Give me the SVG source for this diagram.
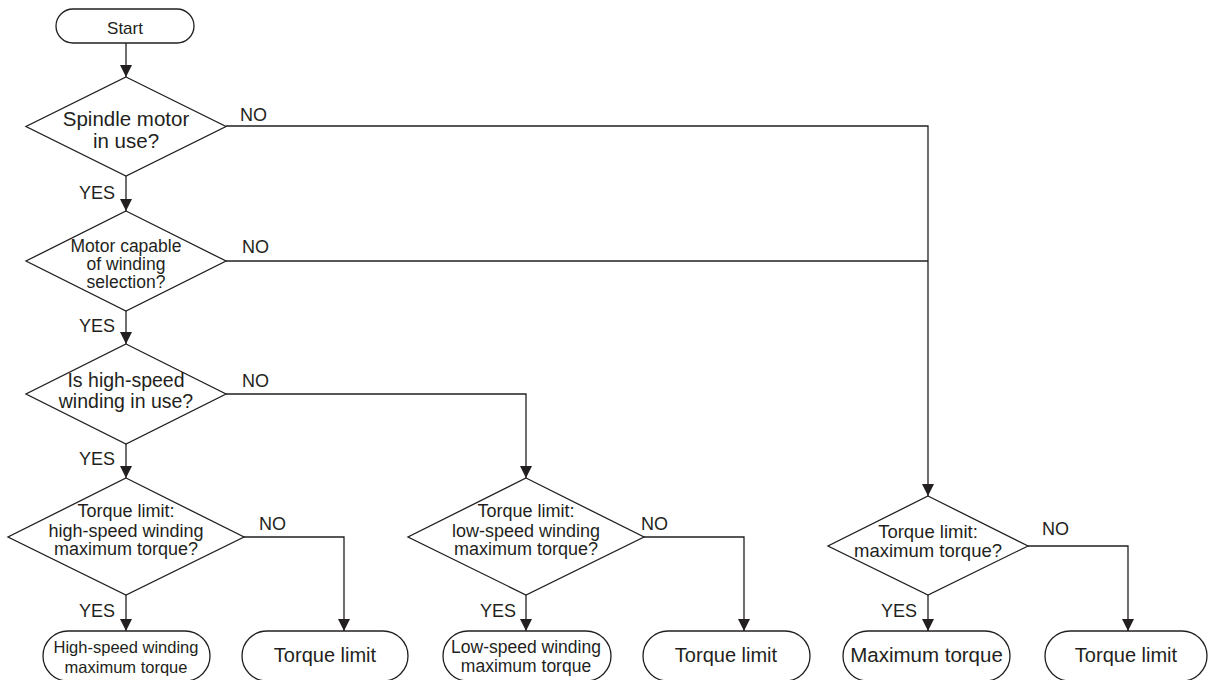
<svg xmlns="http://www.w3.org/2000/svg" width="1210" height="680" viewBox="0 0 1210 680">
  <style>
    .shape { fill: #ffffff; stroke: #231f20; stroke-width: 1.3; }
    .wire { fill: none; stroke: #231f20; stroke-width: 1.3; }
    text { font-family: "Liberation Sans", Arial, sans-serif; fill: #231f20; text-anchor: middle; }
    .lbl { font-size: 18px; text-anchor: start; }
  </style>
  <defs>
    <marker id="arrow" markerUnits="userSpaceOnUse" markerWidth="12" markerHeight="14" refX="12" refY="6" orient="auto">
      <path d="M0,0 L12,6 L0,12 Z" fill="#231f20"/>
    </marker>
  </defs>

  <rect width="1210" height="680" fill="#ffffff"/>

  <!-- connectors -->
  <g id="connectors">
    <line class="wire" x1="126" y1="43" x2="126" y2="77" marker-end="url(#arrow)"/>
    <line class="wire" x1="126" y1="176" x2="126" y2="211" marker-end="url(#arrow)"/>
    <line class="wire" x1="126" y1="311" x2="126" y2="344" marker-end="url(#arrow)"/>
    <line class="wire" x1="126" y1="444" x2="126" y2="478" marker-end="url(#arrow)"/>
    <line class="wire" x1="126" y1="595" x2="126" y2="631" marker-end="url(#arrow)"/>
    <!-- NO branches from the first two decisions join a shared trunk -->
    <polyline class="wire" points="226,126 928,126 928,496" marker-end="url(#arrow)"/>
    <line class="wire" x1="226" y1="261" x2="928" y2="261"/>
    <!-- low-speed branch -->
    <polyline class="wire" points="226,394 526,394 526,478" marker-end="url(#arrow)"/>
    <line class="wire" x1="526" y1="595" x2="526" y2="631" marker-end="url(#arrow)"/>
    <line class="wire" x1="928" y1="595" x2="928" y2="631" marker-end="url(#arrow)"/>
    <!-- NO branches to torque limit -->
    <polyline class="wire" points="244,537 344,537 344,631" marker-end="url(#arrow)"/>
    <polyline class="wire" points="644,537 744,537 744,631" marker-end="url(#arrow)"/>
    <polyline class="wire" points="1028,546 1128,546 1128,631" marker-end="url(#arrow)"/>

    <text class="lbl" x="240" y="121">NO</text>
    <text class="lbl" x="242" y="253">NO</text>
    <text class="lbl" x="242" y="387">NO</text>
    <text class="lbl" x="259" y="530">NO</text>
    <text class="lbl" x="641" y="530">NO</text>
    <text class="lbl" x="1042" y="535">NO</text>
    <text class="lbl" x="79" y="199">YES</text>
    <text class="lbl" x="79" y="332">YES</text>
    <text class="lbl" x="79" y="465">YES</text>
    <text class="lbl" x="79" y="617">YES</text>
    <text class="lbl" x="480" y="617">YES</text>
    <text class="lbl" x="881" y="617">YES</text>
  </g>

  <g id="start">
    <rect class="shape" x="56" y="9" width="138" height="34" rx="17"/>
    <text x="125" y="34" font-size="17">Start</text>
  </g>

  <g id="spindle-in-use">
    <polygon class="shape" points="126,77 226,126.5 126,176 26,126.5"/>
    <text x="126" y="126" font-size="20.5">Spindle motor</text>
    <text x="126" y="148" font-size="20.5">in use?</text>
  </g>

  <g id="winding-selection">
    <polygon class="shape" points="126,211 226,261 126,311 26,261"/>
    <text x="126" y="252" font-size="17.5">Motor capable</text>
    <text x="126" y="270" font-size="17.5">of winding</text>
    <text x="126" y="288" font-size="17.5">selection?</text>
  </g>

  <g id="high-speed-in-use">
    <polygon class="shape" points="126,344 226,394 126,444 26,394"/>
    <text x="126" y="387" font-size="19.5">Is high-speed</text>
    <text x="126" y="408" font-size="19.5">winding in use?</text>
  </g>

  <g id="high-speed-limit">
    <polygon class="shape" points="126,478 244,537 126,595 8,537"/>
    <text x="126" y="517" font-size="18">Torque limit:</text>
    <text x="126" y="537" font-size="18">high-speed winding</text>
    <text x="126" y="555" font-size="18">maximum torque?</text>
  </g>

  <g id="low-speed-limit">
    <polygon class="shape" points="526,478 644,537 526,595 408,537"/>
    <text x="526" y="517" font-size="18">Torque limit:</text>
    <text x="526" y="537" font-size="18">low-speed winding</text>
    <text x="526" y="555" font-size="18">maximum torque?</text>
  </g>

  <g id="max-limit">
    <polygon class="shape" points="928,496 1028,546 928,595 828,546"/>
    <text x="928" y="538" font-size="18.5">Torque limit:</text>
    <text x="928" y="557" font-size="18.5">maximum torque?</text>
  </g>

  <g id="high-speed-max">
    <rect class="shape" x="43" y="631" width="167" height="50" rx="25"/>
    <text x="126" y="653" font-size="16.5">High-speed winding</text>
    <text x="126" y="673" font-size="16.5">maximum torque</text>
  </g>

  <g id="torque-limit-1">
    <rect class="shape" x="242" y="631" width="166" height="50" rx="25"/>
    <text x="325" y="662" font-size="20">Torque limit</text>
  </g>

  <g id="low-speed-max">
    <rect class="shape" x="443" y="631" width="168" height="50" rx="25"/>
    <text x="526" y="653" font-size="17.5">Low-speed winding</text>
    <text x="526" y="672" font-size="17.5">maximum torque</text>
  </g>

  <g id="torque-limit-2">
    <rect class="shape" x="643" y="631" width="167" height="50" rx="25"/>
    <text x="726" y="662" font-size="20">Torque limit</text>
  </g>

  <g id="max-torque">
    <rect class="shape" x="843" y="631" width="167" height="50" rx="25"/>
    <text x="926.5" y="662" font-size="20.5">Maximum torque</text>
  </g>

  <g id="torque-limit-3">
    <rect class="shape" x="1045" y="631" width="162" height="50" rx="25"/>
    <text x="1126" y="662" font-size="20">Torque limit</text>
  </g>
</svg>
